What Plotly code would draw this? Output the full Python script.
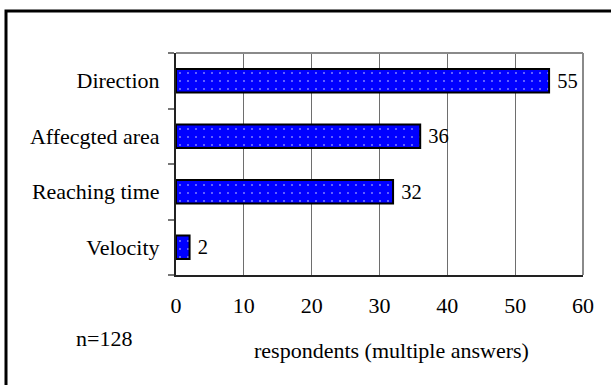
import plotly.graph_objects as go

# Survey results: what information respondents wanted (multiple answers)
categories = ["Direction", "Affecgted area", "Reaching time", "Velocity"]
respondents = [55, 36, 32, 2]
x_ticks = [0, 10, 20, 30, 40, 50, 60]
sample_note = "n=128"
x_title = "respondents (multiple answers)"

W, H = 611, 385
L, R, T, B = 176, 28, 53, 110
pw, ph = W - L - R, H - T - B


def px_x(px):
    return (px - L) / pw


def px_y(py):
    return (H - B - py) / ph


FONT = "Liberation Serif"
FS = 22

fig = go.Figure(
    go.Bar(
        x=respondents,
        y=categories,
        orientation="h",
        width=0.42,
        marker=dict(
            color="#0000FF",
            line=dict(color="black", width=2),
            pattern=dict(shape=".", fgcolor="white", bgcolor="#0000FF",
                         size=8, solidity=0.05),
        ),
        text=[f" {v}" for v in respondents],
        textposition="outside",
        textfont=dict(family=FONT, size=FS, color="black"),
        cliponaxis=False,
        hoverinfo="skip",
    )
)

fig.update_layout(
    width=W,
    height=H,
    margin=dict(l=L, r=R, t=T, b=B, pad=0),
    paper_bgcolor="white",
    plot_bgcolor="white",
    font=dict(family=FONT, size=FS, color="black"),
    showlegend=False,
    xaxis=dict(
        range=[0, 60],
        tickvals=x_ticks,
        ticktext=[str(v) for v in x_ticks],
        showgrid=True,
        gridcolor="#6e6e6e",
        gridwidth=1,
        zeroline=False,
        showline=True,
        linecolor="#222",
        linewidth=2,
        ticks="",
        ticklabelstandoff=10,
        tickfont=dict(family=FONT, size=FS),
    ),
    yaxis=dict(
        type="category",
        categoryorder="array",
        categoryarray=categories[::-1],
        tickson="boundaries",
        ticks="outside",
        ticklen=6,
        tickcolor="#777",
        tickwidth=2,
        showgrid=False,
        showline=True,
        linecolor="#222",
        linewidth=2,
        ticklabelstandoff=10,
        tickfont=dict(family=FONT, size=FS),
    ),
    shapes=[
        # gray top and right edges of the plotting area
        dict(type="line", xref="paper", yref="paper", x0=0, x1=1, y0=1, y1=1,
             line=dict(color="#8a8a8a", width=2)),
        dict(type="line", xref="paper", yref="paper", x0=1, x1=1, y0=0, y1=1,
             line=dict(color="#8a8a8a", width=2)),
        # outer chart frame
        dict(type="rect", xref="paper", yref="paper",
             x0=px_x(6), x1=px_x(640), y0=px_y(420), y1=px_y(11),
             line=dict(color="black", width=3), layer="above"),
    ],
    annotations=[
        dict(text=sample_note, xref="paper", yref="paper",
             x=px_x(104), y=px_y(338), xanchor="center", yanchor="middle",
             showarrow=False, font=dict(family=FONT, size=FS)),
        dict(text=x_title, xref="paper", yref="paper",
             x=px_x(391), y=px_y(350), xanchor="center", yanchor="middle",
             showarrow=False, font=dict(family=FONT, size=FS)),
    ],
)

fig.write_html("out.html")
